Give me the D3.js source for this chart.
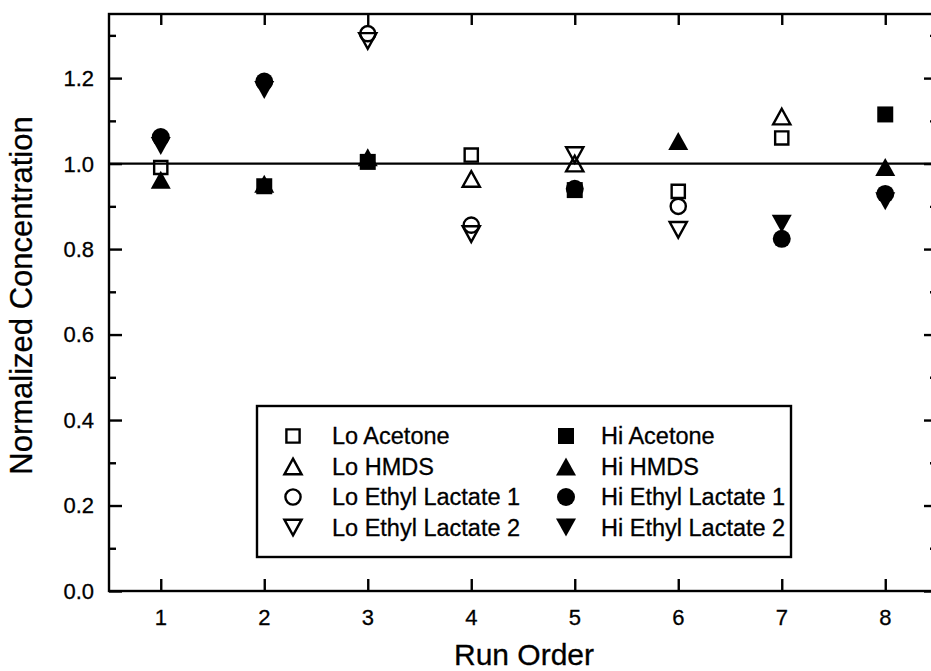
<!DOCTYPE html>
<html>
<head>
<meta charset="utf-8">
<script src="https://cdn.jsdelivr.net/npm/d3@7"></script>
<style>
  html, body { margin: 0; padding: 0; background: #fff; }
  svg text { font-family: "Liberation Sans", Arial, Helvetica, sans-serif; fill: #000; stroke: #000; stroke-width: 0.3; }
</style>
</head>
<body>
<svg id="chart" width="931" height="671"></svg>
<script>
// Run order on the x axis, normalized concentration on the y axis
const runs = [1, 2, 3, 4, 5, 6, 7, 8];
const xTicks = [1, 2, 3, 4, 5, 6, 7, 8];
const yMajorTicks = [0, 0.2, 0.4, 0.6, 0.8, 1.0, 1.2];
const yMinorTicks = [0.1, 0.3, 0.5, 0.7, 0.9, 1.1, 1.3];

// Each run uses either the low or the high level of each compound
const loAcetone  = [0.991, null, null, 1.020, null, 0.935, 1.060, null];
const hiAcetone  = [null, 0.947, 1.004, null, 0.938, null, null, 1.115];
const loHMDS     = [null, null, null, 0.964, 1.000, null, 1.110, null];
const hiHMDS     = [0.962, 0.953, 1.015, null, null, 1.053, null, 0.992];
const loEthyl1   = [null, null, 1.304, 0.856, null, 0.900, null, null];
const hiEthyl1   = [1.062, 1.192, null, null, 0.941, null, 0.824, 0.929];
const loEthyl2   = [null, null, 1.287, 0.835, 1.020, 0.845, null, null];
const hiEthyl2   = [1.041, 1.172, null, null, null, null, 0.859, 0.912];

const seriesLabels = ["Lo Acetone", "Lo HMDS", "Lo Ethyl Lactate 1", "Lo Ethyl Lactate 2",
                      "Hi Acetone", "Hi HMDS", "Hi Ethyl Lactate 1", "Hi Ethyl Lactate 2"];

const series = [
  { name: seriesLabels[0], values: loAcetone, shape: "square",   filled: false },
  { name: seriesLabels[1], values: loHMDS,    shape: "up",       filled: false },
  { name: seriesLabels[2], values: loEthyl1,  shape: "circle",   filled: false },
  { name: seriesLabels[3], values: loEthyl2,  shape: "down",     filled: false },
  { name: seriesLabels[4], values: hiAcetone, shape: "square",   filled: true },
  { name: seriesLabels[5], values: hiHMDS,    shape: "up",       filled: true },
  { name: seriesLabels[6], values: hiEthyl1,  shape: "circle",   filled: true },
  { name: seriesLabels[7], values: hiEthyl2,  shape: "down",     filled: true }
];

const svg = d3.select("#chart");
const plot = { left: 109, right: 937, top: 14, bottom: 591 };

const x = d3.scaleLinear().domain([0.5, 8.5]).range([plot.left, plot.right]);
const y = d3.scaleLinear().domain([0, 1.35]).range([plot.bottom, plot.top]);

// Marker outlines, centred on the origin
function markerPath(shape, filled) {
  const p = d3.path();
  if (shape === "square") {
    const h = filled ? 8 : 6.6;
    p.rect(-h, -h, 2 * h, 2 * h);
  } else if (shape === "circle") {
    const r = filled ? 9 : 7.6;
    p.arc(0, 0, r, 0, 2 * Math.PI);
  } else {
    const w = filled ? 10 : 8.6;
    const h = filled ? 9 : 7.8;
    const s = shape === "up" ? 1 : -1;
    p.moveTo(0, -s * h);
    p.lineTo(w, s * h);
    p.lineTo(-w, s * h);
    p.closePath();
  }
  return p.toString();
}

function drawMarker(g, s) {
  g.append("path")
    .attr("d", markerPath(s.shape, s.filled))
    .attr("fill", s.filled ? "#000" : "none")
    .attr("stroke", s.filled ? "none" : "#000")
    .attr("stroke-width", s.filled ? 0 : 2.4)
    .attr("stroke-linejoin", "miter");
}

// Reference line at 1.0
svg.append("line")
  .attr("x1", plot.left).attr("x2", plot.right)
  .attr("y1", y(1)).attr("y2", y(1))
  .attr("stroke", "#000").attr("stroke-width", 2.2);

// Frame
svg.append("rect")
  .attr("x", plot.left).attr("y", plot.top)
  .attr("width", plot.right - plot.left).attr("height", plot.bottom - plot.top)
  .attr("fill", "none").attr("stroke", "#000").attr("stroke-width", 2.4);

// Inward ticks on all four sides
const bottomAxis = d3.axisBottom(x).tickValues(xTicks).tickSize(-12).tickFormat("");
const topAxis = d3.axisTop(x).tickValues(xTicks).tickSize(-11).tickFormat("");
const leftMajor = d3.axisLeft(y).tickValues(yMajorTicks).tickSize(-13).tickFormat("");
const leftMinor = d3.axisLeft(y).tickValues(yMinorTicks).tickSize(-7).tickFormat("");
const rightMajor = d3.axisRight(y).tickValues(yMajorTicks).tickSize(-13).tickFormat("");
const rightMinor = d3.axisRight(y).tickValues(yMinorTicks).tickSize(-7).tickFormat("");

function styleAxis(g) {
  g.select(".domain").remove();
  g.selectAll(".tick line").attr("stroke", "#000").attr("stroke-width", 2.4);
}
svg.append("g").attr("transform", `translate(0,${plot.bottom})`).call(bottomAxis).call(styleAxis);
svg.append("g").attr("transform", `translate(0,${plot.top})`).call(topAxis).call(styleAxis);
svg.append("g").attr("transform", `translate(${plot.left},0)`).call(leftMajor).call(styleAxis);
svg.append("g").attr("transform", `translate(${plot.left},0)`).call(leftMinor).call(styleAxis);
svg.append("g").attr("transform", `translate(${plot.right},0)`).call(rightMajor).call(styleAxis);
svg.append("g").attr("transform", `translate(${plot.right},0)`).call(rightMinor).call(styleAxis);

// Tick labels
const fmt = d3.format(".1f");
svg.append("g").selectAll("text")
  .data(yMajorTicks).join("text")
  .attr("x", plot.left - 15)
  .attr("y", d => y(d))
  .attr("dy", "0.36em")
  .attr("text-anchor", "end")
  .attr("font-size", 22)
  .text(d => fmt(d));

svg.append("g").selectAll("text")
  .data(xTicks).join("text")
  .attr("x", d => x(d))
  .attr("y", plot.bottom + 34)
  .attr("text-anchor", "middle")
  .attr("font-size", 22)
  .text(d => d);

// Axis titles
svg.append("text")
  .attr("x", (plot.left + plot.right) / 2 + 1)
  .attr("y", 665)
  .attr("text-anchor", "middle")
  .attr("font-size", 30)
  .text("Run Order");

svg.append("text")
  .attr("transform", `translate(32,${(plot.top + plot.bottom) / 2 - 7}) rotate(-90)`)
  .attr("text-anchor", "middle")
  .attr("font-size", 31)
  .text("Normalized Concentration");

// Data points
const markers = svg.append("g");
series.forEach(s => {
  runs.forEach((r, i) => {
    const v = s.values[i];
    if (v == null) return;
    const g = markers.append("g").attr("transform", `translate(${x(r)},${y(v)})`);
    drawMarker(g, s);
  });
});

// Legend
const legend = svg.append("g");
legend.append("rect")
  .attr("x", 257).attr("y", 406).attr("width", 534).attr("height", 151)
  .attr("fill", "#fff").attr("stroke", "#000").attr("stroke-width", 2.4);

const rowY = [436, 466.5, 497, 527.5];
const cols = [{ sym: 293, text: 332 }, { sym: 566, text: 601 }];
series.forEach((s, i) => {
  const col = cols[s.filled ? 1 : 0];
  const row = rowY[i % 4];
  const g = legend.append("g").attr("transform", `translate(${col.sym},${row})`);
  drawMarker(g, s);
  legend.append("text")
    .attr("x", col.text).attr("y", row)
    .attr("dy", "0.36em")
    .attr("font-size", 23.5)
    .text(s.name);
});
</script>
</body>
</html>
